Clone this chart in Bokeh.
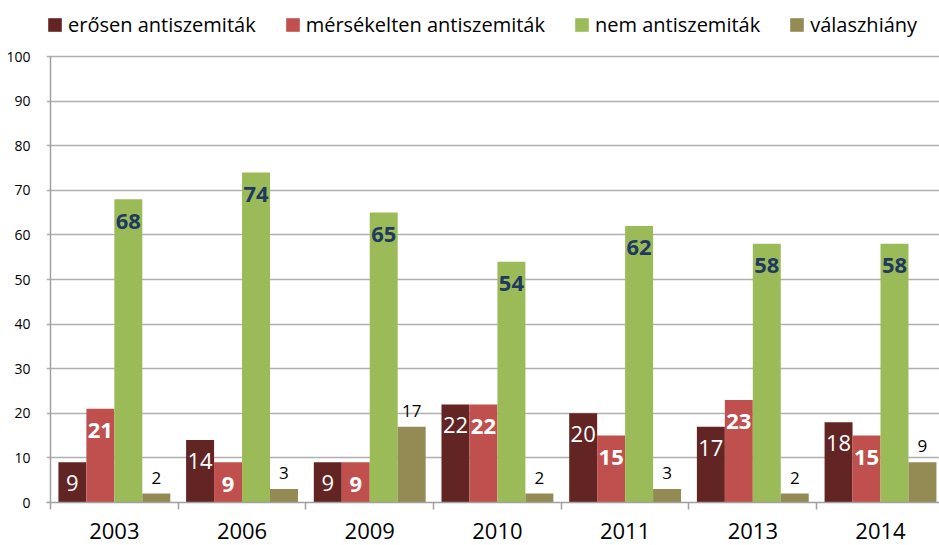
import numpy as np
from bokeh.plotting import figure
from bokeh.models import Range1d, FixedTicker, Legend, LegendItem, ColumnDataSource
from bokeh.core.properties import value
from bokeh.embed import file_html
from bokeh.resources import INLINE

# ---- data ----
years = ["2003", "2006", "2009", "2010", "2011", "2013", "2014"]
strong = [9, 14, 9, 22, 20, 17, 18]          # erősen antiszemiták
moderate = [21, 9, 9, 22, 15, 23, 15]        # mérsékelten antiszemiták
not_anti = [68, 74, 65, 54, 62, 58, 58]      # nem antiszemiták
no_answer = [2, 3, 17, 2, 3, 2, 9]           # válaszhiány
series_names = ["erősen antiszemiták", "mérsékelten antiszemiták", "nem antiszemiták", "válaszhiány"]
y_ticks = [0, 10, 20, 30, 40, 50, 60, 70, 80, 90, 100]

colors = ["#632523", "#C0504D", "#9BBB59", "#948A54"]
FONT = "Open Sans"
AX = "#a0a0a0"

n = len(years)
centers = np.arange(n) + 0.5
bw = 0.219
offsets = [-1.5 * bw, -0.5 * bw, 0.5 * bw, 1.5 * bw]

# frame extends above the 100 line so that the legend can sit inside it
p = figure(width=939, height=545, output_backend="svg", toolbar_location=None,
           x_range=Range1d(-0.0313, 6.962), y_range=Range1d(0, 112.56),
           min_border_left=46, min_border_right=0, min_border_top=0, min_border_bottom=43)
p.outline_line_color = None
p.background_fill_color = "white"
p.border_fill_color = "white"
p.xgrid.grid_line_color = None
p.ygrid.grid_line_color = "#b0b0b0"
p.ygrid.grid_line_width = 1.5

all_series = [strong, moderate, not_anti, no_answer]
renderers = []
for vals, off, col in zip(all_series, offsets, colors):
    src = ColumnDataSource(dict(x=centers + off, top=vals, lab=[str(v) for v in vals]))
    r = p.vbar(x="x", top="top", width=bw, bottom=0, source=src, fill_color=col, line_color=None)
    renderers.append((r, src))

# y axis line from 0 to 100
p.segment(x0=[0], y0=[y_ticks[0]], x1=[0], y1=[y_ticks[-1]], line_color=AX, line_width=1.5)

# labels
label_styles = [
    dict(color="white", style="normal", size="22px", yoff=21),
    dict(color="white", style="bold", size="22px", yoff=22),
    dict(color="#1F3A60", style="bold", size="22px", yoff=22),
    dict(color="black", style="normal", size="17px", yoff=-16),
]
for (r, src), st in zip(renderers, label_styles):
    p.text(x="x", y="top", text="lab", source=src, text_align="center", text_baseline="middle",
           y_offset=st["yoff"], text_color=st["color"], text_font=value(FONT),
           text_font_style=st["style"], text_font_size=st["size"])

# axes
xa = p.xaxis[0]
xa.ticker = FixedTicker(ticks=list(centers), minor_ticks=list(np.arange(n + 1)))
xa.major_label_overrides = {float(c): y for c, y in zip(centers, years)}
xa.major_tick_line_color = None
xa.major_tick_in = 0
xa.major_tick_out = 0
xa.minor_tick_line_color = AX
xa.minor_tick_line_width = 1.5
xa.minor_tick_in = 0
xa.minor_tick_out = 7
xa.axis_line_color = AX
xa.axis_line_width = 1.5
xa.major_label_text_font = FONT
xa.major_label_text_font_size = "22px"
xa.major_label_text_color = "black"
xa.major_label_standoff = 13

ya = p.yaxis[0]
ya.ticker = FixedTicker(ticks=y_ticks)
ya.axis_line_color = None
ya.major_tick_line_color = None
ya.minor_tick_line_color = None
ya.major_label_text_font = FONT
ya.major_label_text_font_size = "14px"
ya.major_label_text_color = "black"
ya.major_label_standoff = 10

legend = Legend(items=[LegendItem(label=nm, renderers=[r]) for nm, (r, _) in zip(series_names, renderers)],
                orientation="horizontal", location=(0, 464),
                glyph_width=17, glyph_height=17, label_standoff=5, spacing=28,
                label_text_font=FONT, label_text_font_size="20px", label_text_color="black",
                padding=0, margin=0, border_line_color=None, background_fill_alpha=0)
p.add_layout(legend, "center")

open("out.html", "w").write(file_html(p, INLINE))
